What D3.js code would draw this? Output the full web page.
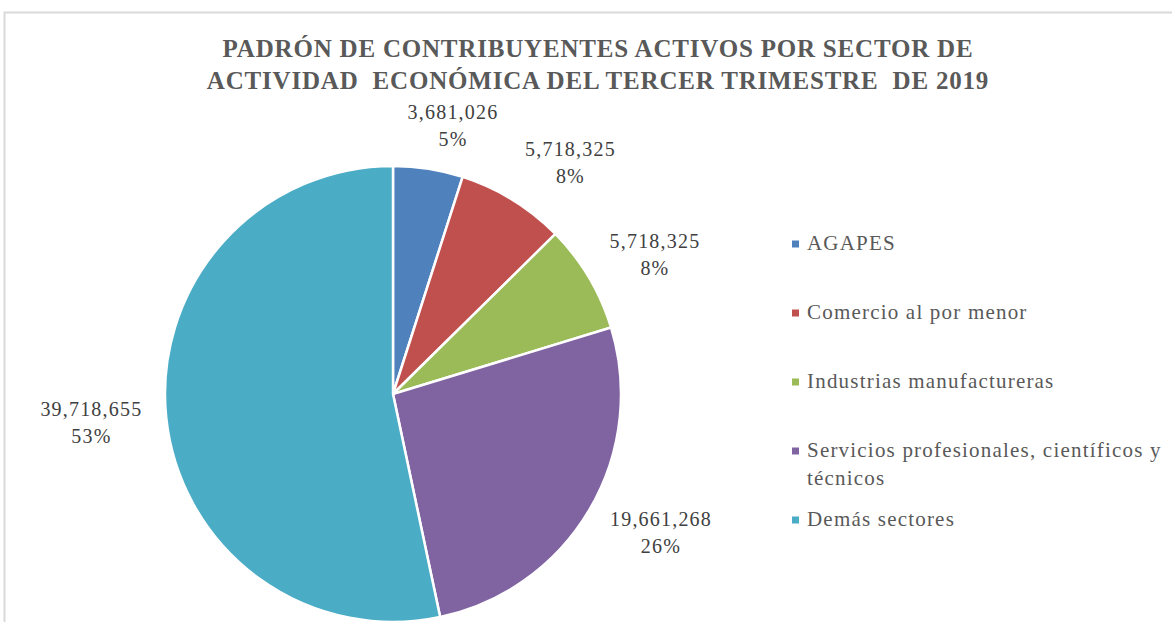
<!DOCTYPE html>
<html><head><meta charset="utf-8">
<script src="https://cdn.jsdelivr.net/npm/d3@7"></script>
<style>body{margin:0;background:#fff}svg{display:block}</style>
</head><body>
<svg id="chart" width="1172" height="622"></svg>
<script>
const categories = ["AGAPES", "Comercio al por menor", "Industrias manufactureras", "Servicios profesionales, científicos y técnicos", "Demás sectores"];
const values = [3681026, 5718325, 5718325, 19661268, 39718655];
const colors = ["#4F81BD", "#C0504D", "#9BBB59", "#8064A2", "#4BACC6"];
const titleLines = ["PADRÓN DE CONTRIBUYENTES ACTIVOS POR SECTOR DE", "ACTIVIDAD  ECONÓMICA DEL TERCER TRIMESTRE  DE 2019"];

const W = 1172, H = 622;
const FONT = "'Liberation Serif','Times New Roman',serif";
const svg = d3.select("#chart");

svg.append("rect").attr("x", 4.5).attr("y", 12.5).attr("width", W + 10).attr("height", H + 10)
  .attr("fill", "none").attr("stroke", "#D9D9D9").attr("stroke-width", 2);

// Title
const title = svg.append("text").attr("text-anchor", "middle").attr("font-family", FONT)
  .attr("font-weight", "bold").attr("font-size", 25).attr("letter-spacing", "0.8px")
  .attr("fill", "#595959").style("white-space", "pre");
titleLines.forEach((l, i) => title.append("tspan").attr("x", 598).attr("y", 57 + i * 32).text(l));

// Pie
const cx = 393, cy = 394, R = 228;
const data = categories.map((c, i) => ({cat: c, value: values[i], color: colors[i]}));
const pie = d3.pie().sort(null).value(d => d.value);
const arcs = pie(data);
const arc = d3.arc().innerRadius(0).outerRadius(R);
const g = svg.append("g").attr("transform", `translate(${cx},${cy})`);
g.selectAll("path").data(arcs).join("path")
  .attr("d", arc).attr("fill", d => d.data.color)
  .attr("stroke", "#fff").attr("stroke-width", 2.5).attr("stroke-linejoin", "round");

// Data labels (outside end)
const total = d3.sum(values);
const fmt = d3.format(",");
const pct = d3.format(".0%");
const clamp = v => Math.max(-1, Math.min(1, v));
arcs.forEach(a => {
  const t = g.append("text").attr("text-anchor", "middle").attr("font-family", FONT)
    .attr("font-size", 20).attr("letter-spacing", "1.2px").attr("fill", "#404040");
  const l1 = t.append("tspan").text(fmt(a.data.value));
  const l2 = t.append("tspan").text(pct(a.data.value / total));
  const w = Math.max(l1.node().getComputedTextLength(), l2.node().getComputedTextLength());
  const h = 40;
  const th = (a.startAngle + a.endAngle) / 2;
  const s = Math.sin(th), c = -Math.cos(th);
  const ra = R + 24;
  const x = ra * s + w / 2 * clamp(3 * s);
  const y = ra * c + h / 2 * clamp(c);
  l1.attr("x", x).attr("y", y - 6.5);
  l2.attr("x", x).attr("y", y + 20.5);
});

// Legend
const ly = d3.scalePoint().domain(categories).range([250, 526]);
const legend = svg.append("g");
const maxW = 365;
categories.forEach((c, i) => {
  const y = ly(c);
  legend.append("rect").attr("x", 792).attr("y", y - 9.5).attr("width", 7).attr("height", 7).attr("fill", colors[i]);
  const t = legend.append("text").attr("font-family", FONT).attr("font-size", 21)
    .attr("letter-spacing", "1.2px").attr("fill", "#595959");
  const words = c.split(" ");
  let line = [], lineNo = 0;
  let ts = t.append("tspan").attr("x", 807).attr("y", y);
  words.forEach(wd => {
    line.push(wd);
    ts.text(line.join(" "));
    if (ts.node().getComputedTextLength() > maxW && line.length > 1) {
      line.pop();
      ts.text(line.join(" "));
      line = [wd];
      lineNo++;
      ts = t.append("tspan").attr("x", 807).attr("y", y + lineNo * 28).text(wd);
    }
  });
});
</script>
</body></html>
